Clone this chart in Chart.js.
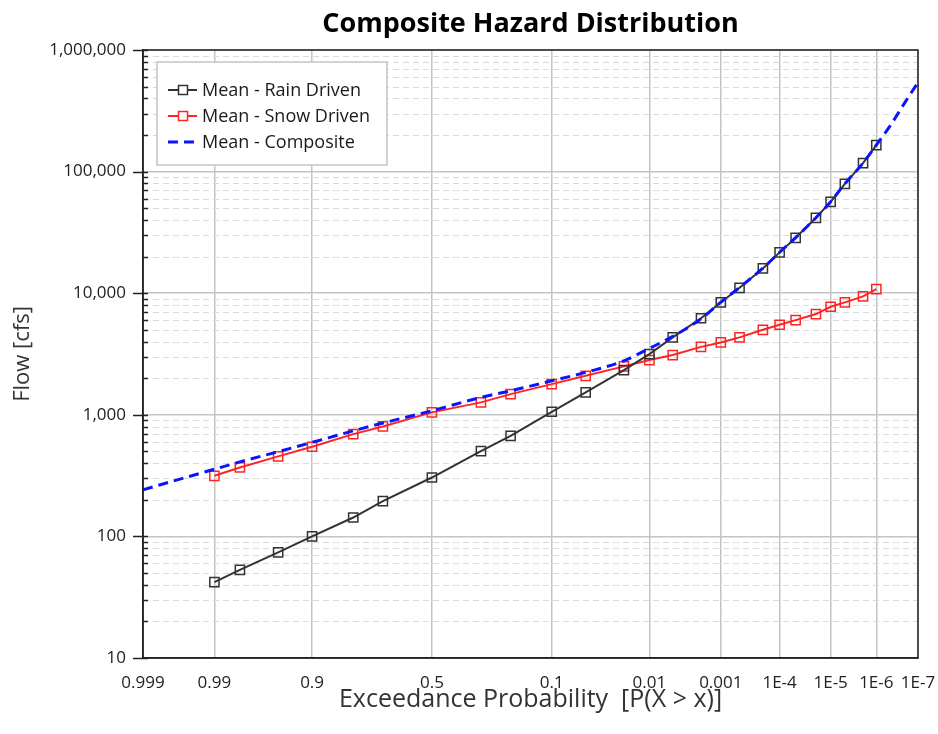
<!DOCTYPE html>
<html>
<head>
<meta charset="utf-8">
<script src="https://cdn.jsdelivr.net/npm/chart.js@4.4.1/dist/chart.umd.min.js"></script>
<style>
  body { margin: 0; background: #fff; }
  #wrap { width: 938px; height: 734px; }
</style>
</head>
<body>
<div id="wrap"><canvas id="hazard" width="938" height="734"></canvas></div>
<script>
// exceedance probabilities of the computed points
const probs = [0.99, 0.98, 0.95, 0.9, 0.8, 0.7, 0.5, 0.3, 0.2, 0.1, 0.05, 0.02, 0.01,
  0.005, 0.002, 0.001, 5e-4, 2e-4, 1e-4, 5e-5, 2e-5, 1e-5, 5e-6, 2e-6, 1e-6];
const rainFlow = [42, 53, 74, 100, 143, 195, 305, 502, 671, 1059, 1528, 2333, 3158,
  4334, 6220, 8400, 11070, 15990, 21660, 28560, 41700, 56440, 79400, 117500, 165300];
const snowFlow = [315, 369, 455, 546, 694, 802, 1047, 1265, 1480, 1787, 2093, 2502, 2818,
  3098, 3620, 3937, 4333, 5002, 5500, 6010, 6735, 7734, 8400, 9415, 10810];
const compProbs = [0.999, 0.99, 0.98, 0.95, 0.9, 0.8, 0.7, 0.5, 0.3, 0.2, 0.1, 0.05, 0.02, 0.01,
  0.005, 0.002, 0.001, 5e-4, 2e-4, 1e-4, 5e-5, 2e-5, 1e-5, 5e-6, 2e-6, 1e-6, 5e-7, 2e-7, 1e-7];
const compFlow = [242, 357, 410, 497, 593, 738, 855, 1080, 1390, 1575, 1903, 2234, 2781, 3516,
  4414, 6150, 8450, 11150, 16050, 21700, 28600, 41750, 56500, 79500, 117600, 165500, 232000, 380000, 541000];

const xTickProbs = [0.999, 0.99, 0.9, 0.5, 0.1, 0.01, 0.001, 1e-4, 1e-5, 1e-6, 1e-7];
const xTickLabels = ['0.999', '0.99', '0.9', '0.5', '0.1', '0.01', '0.001', '1E-4', '1E-5', '1E-6', '1E-7'];
const yDecades = [10, 100, 1000, 10000, 100000, 1000000];

/* =============================== */
/* normal probability axis */
/* =============================== */
function invNorm(q) {
  const a = [-3.969683028665376e+01, 2.209460984245205e+02, -2.759285104469687e+02, 1.383577518672690e+02, -3.066479806614716e+01, 2.506628277459239e+00];
  const b = [-5.447609879822406e+01, 1.615858368580409e+02, -1.556989798598866e+02, 6.680131188771972e+01, -1.328068155288572e+01];
  const c = [-7.784894002430293e-03, -3.223964580411365e-01, -2.400758277161838e+00, -2.549732539343734e+00, 4.374664141464968e+00, 2.938163982698783e+00];
  const d = [7.784695709041462e-03, 3.224671290700398e-01, 2.445134137142996e+00, 3.754408661907416e+00];
  const pl = 0.02425;
  let r;
  if (q < pl) {
    r = Math.sqrt(-2 * Math.log(q));
    return (((((c[0]*r+c[1])*r+c[2])*r+c[3])*r+c[4])*r+c[5]) / ((((d[0]*r+d[1])*r+d[2])*r+d[3])*r+1);
  }
  if (q > 1 - pl) {
    r = Math.sqrt(-2 * Math.log(1 - q));
    return -(((((c[0]*r+c[1])*r+c[2])*r+c[3])*r+c[4])*r+c[5]) / ((((d[0]*r+d[1])*r+d[2])*r+d[3])*r+1);
  }
  r = q - 0.5;
  const s = r * r;
  return (((((a[0]*s+a[1])*s+a[2])*s+a[3])*s+a[4])*s+a[5])*r / (((((b[0]*s+b[1])*s+b[2])*s+b[3])*s+b[4])*s+1);
}
// exceedance probability -> standard normal variate
const zOf = p => -invNorm(p);

const toPoints = (ps, vs) => ps.map((p, i) => ({ x: zOf(p), y: vs[i] }));

// y ticks: 1..9 per decade
const yTicks = [];
yDecades.forEach((d, i) => {
  if (i === yDecades.length - 1) { yTicks.push(d); return; }
  for (let k = 1; k <= 9; k++) yTicks.push(k * d);
});
const isMajor = v => yDecades.includes(v);

const FONT = "'Open Sans', 'Noto Sans', sans-serif";

/* =============================== */
/* frame, minor grid and legend */
/* =============================== */
const framePlugin = {
  id: 'framePlugin',
  beforeDatasetsDraw(chart) {
    const { ctx, chartArea: a } = chart;
    const y = chart.scales.y;
    ctx.save();
    ctx.strokeStyle = '#dadada';
    ctx.lineWidth = 1;
    ctx.setLineDash([6, 4]);
    y.ticks.forEach(t => {
      if (isMajor(t.value)) return;
      const py = Math.round(y.getPixelForValue(t.value)) + 0.5;
      ctx.beginPath();
      ctx.moveTo(a.left, py);
      ctx.lineTo(a.right, py);
      ctx.stroke();
    });
    ctx.restore();
  },
  afterDatasetsDraw(chart) {
    const { ctx, chartArea: a } = chart;
    const y = chart.scales.y;
    ctx.save();
    ctx.strokeStyle = '#222';
    ctx.lineWidth = 1.5;
    ctx.strokeRect(a.left, a.top, a.right - a.left, a.bottom - a.top);
    y.ticks.forEach(t => {
      const py = Math.round(y.getPixelForValue(t.value)) + 0.5;
      ctx.beginPath();
      ctx.moveTo(a.left - (isMajor(t.value) ? 10 : 1), py);
      ctx.lineTo(a.left + 5, py);
      ctx.stroke();
    });
    ctx.restore();
  },
  afterDraw(chart) {
    const { ctx, chartArea: a } = chart;
    const bx = a.left + 14, by = a.top + 12, bw = 230, bh = 103;
    ctx.save();
    ctx.fillStyle = '#fff';
    ctx.fillRect(bx, by, bw, bh);
    ctx.strokeStyle = '#c4c4c4';
    ctx.lineWidth = 1.5;
    ctx.strokeRect(bx, by, bw, bh);
    ctx.font = '18px ' + FONT;
    ctx.textBaseline = 'middle';
    chart.data.datasets.forEach((ds, i) => {
      const cy = by + 28 + i * 26;
      ctx.strokeStyle = ds.borderColor;
      ctx.lineWidth = ds.borderWidth;
      ctx.setLineDash(ds.borderDash || []);
      ctx.beginPath();
      ctx.moveTo(bx + 11, cy);
      ctx.lineTo(bx + 40, cy);
      ctx.stroke();
      ctx.setLineDash([]);
      if (ds.pointRadius > 0) {
        ctx.lineWidth = 1.5;
        ctx.fillStyle = '#fff';
        ctx.fillRect(bx + 21.5, cy - 4.5, 9, 9);
        ctx.strokeRect(bx + 21.5, cy - 4.5, 9, 9);
      }
      ctx.fillStyle = '#1a1a1a';
      ctx.fillText(ds.label, bx + 45, cy + 1);
    });
    ctx.restore();
  }
};

new Chart(document.getElementById('hazard'), {
  type: 'line',
  data: {
    datasets: [{
      label: 'Mean - Rain Driven',
      data: toPoints(probs, rainFlow),
      borderColor: '#333',
      borderWidth: 2,
      pointStyle: 'rect',
      pointRadius: 6.5,
      pointBorderWidth: 1.5,
      pointBackgroundColor: 'rgba(255,255,255,0)',
      pointBorderColor: '#333',
      tension: 0,
      order: 2
    }, {
      label: 'Mean - Snow Driven',
      data: toPoints(probs, snowFlow),
      borderColor: '#ff2424',
      borderWidth: 2,
      pointStyle: 'rect',
      pointRadius: 6.5,
      pointBorderWidth: 1.5,
      pointBackgroundColor: 'rgba(255,255,255,0)',
      pointBorderColor: '#ff2424',
      tension: 0,
      order: 3
    }, {
      label: 'Mean - Composite',
      data: toPoints(compProbs, compFlow),
      borderColor: '#0a14ff',
      borderWidth: 3,
      borderDash: [10, 6],
      pointRadius: 0,
      cubicInterpolationMode: 'monotone',
      order: 1
    }]
  },
  options: {
    responsive: false,
    animation: false,
    layout: { padding: { left: 0, right: 20, top: 0, bottom: 0 } },
    plugins: {
      legend: { display: false },
      tooltip: { enabled: false },
      title: {
        display: true,
        fullSize: false,
        text: 'Composite Hazard Distribution',
        color: '#000',
        font: { family: FONT, size: 27, weight: 'bold' },
        padding: { top: 8, bottom: 9.6 }
      }
    },
    scales: {
      x: {
        type: 'linear',
        min: zOf(0.999),
        max: zOf(1e-7),
        afterBuildTicks: s => { s.ticks = xTickProbs.map(p => ({ value: zOf(p) })); },
        afterFit: s => { s.height = 76; s.paddingLeft = 0; s.paddingRight = 0; },
        ticks: {
          autoSkip: false,
          maxRotation: 0,
          padding: 15,
          color: '#222',
          font: { family: FONT, size: 17 },
          callback: (v, i) => xTickLabels[i]
        },
        grid: { color: '#c4c4c4', lineWidth: 1.5, drawTicks: false },
        border: { color: '#222', width: 1.5 },
        title: {
          display: true,
          text: 'Exceedance Probability  [P(X > x)]',
          color: '#333',
          font: { family: FONT, size: 25 },
          padding: { top: 0, bottom: 19 }
        }
      },
      y: {
        type: 'logarithmic',
        min: 10,
        max: 1000000,
        afterBuildTicks: s => { s.ticks = yTicks.map(v => ({ value: v })); },
        afterFit: s => { s.width = 143; },
        ticks: {
          autoSkip: false,
          padding: 17,
          color: '#222',
          font: { family: FONT, size: 17 },
          callback: v => isMajor(v) ? v.toLocaleString('en-US') : ''
        },
        grid: {
          color: ctx => (ctx.tick && isMajor(ctx.tick.value)) ? '#c4c4c4' : 'rgba(0,0,0,0)',
          lineWidth: 1.5,
          drawTicks: false
        },
        border: { color: '#222', width: 1.5 },
        title: {
          display: true,
          text: 'Flow [cfs]',
          color: '#333',
          font: { family: FONT, size: 22 },
          padding: { top: 10, bottom: 0 }
        }
      }
    }
  },
  plugins: [framePlugin]
});
</script>
</body>
</html>
